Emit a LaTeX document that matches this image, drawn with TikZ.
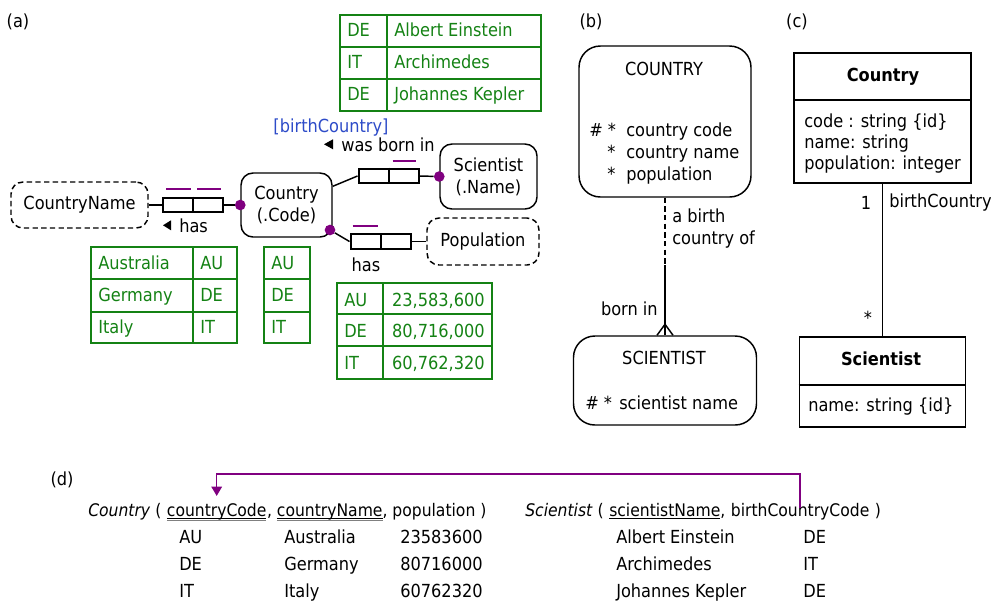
\documentclass[tikz,border=0pt]{standalone}
\usepackage{fontspec}
\setmainfont{DejaVu Sans Condensed}
\usetikzlibrary{arrows.meta,calc}

\definecolor{ormgreen}{RGB}{20,130,20}
\definecolor{ormpurple}{RGB}{128,0,128}
\definecolor{ormblue}{RGB}{45,75,200}

% keys in the relational schema
\newcommand{\pkey}[1]{\setbox0\hbox{#1}\rlap{\rule[-2.4pt]{\wd0}{0.7pt}}\rlap{\color{gray}\rule[-3.9pt]{\wd0}{0.7pt}}\box0}
\newcommand{\ukey}[1]{\setbox0\hbox{#1}\rlap{\rule[-2.4pt]{\wd0}{0.7pt}}\box0}

\begin{document}
\begin{tikzpicture}[x=0.75pt,y=0.75pt,yscale=-1,xscale=1,
  font=\fontsize{13.5}{16.5}\selectfont,
  orm/.style={draw, rounded corners=9pt, line width=1.1pt, align=center, inner sep=0},
  ormval/.style={orm, dash pattern=on 4pt off 2.5pt},
  role/.style={draw, line width=1.5pt, minimum width=45pt, minimum height=11pt, inner sep=0},
  dot/.style={circle, fill=ormpurple, minimum size=8pt, inner sep=0},
  ukbar/.style={ormpurple, line width=1.6pt},
  conn/.style={line width=1.1pt},
  grn/.style={draw=ormgreen, line width=1.2pt},
  gtxt/.style={text=ormgreen, anchor=base west, inner sep=0},
  att/.style={anchor=base west, inner sep=0},
  relhdr/.style={att, font=\fontsize{13}{16}\selectfont},
  erbox/.style={draw, rounded corners=16pt, line width=1.1pt},
  umlbox/.style={draw, line width=1.4pt},
  bold/.style={font=\fontsize{13.5}{16.5}\selectfont\bfseries},
  arrowline/.style={ormpurple, line width=1.1pt, -{Triangle[length=7pt,width=8pt]}}]
\useasboundingbox (0,0) rectangle (991,601);

%%%%%%%%%%%%%%%% (a) ORM schema
% Text Node
\node (lblA) at (18,22) {(a)};

%Shape: Table [Scientist population]
\draw [grn] (340,15) rectangle (541,111);
\draw [grn] (340,47) -- (541,47) (340,79) -- (541,79) (387,15) -- (387,111);
\node [gtxt] (sciC1) at (347,36) {DE};
\node [gtxt] (sciN1) at (394,36) {Albert Einstein};
\node [gtxt] (sciC2) at (347,68) {IT};
\node [gtxt] (sciN2) at (394,68) {Archimedes};
\node [gtxt] (sciC3) at (347,100) {DE};
\node [gtxt] (sciN3) at (394,100) {Johannes Kepler};

% Text Node
\node [text=ormblue] (rdgBirth) at (331,128) {[birthCountry]};
\node [att] (rdgBorn) at (341,151) {was born in};
\fill ($(rdgBorn.west)+(-8,-5)$) -- ($(rdgBorn.west)+(-8,5)$) -- ($(rdgBorn.west)+(-17,0)$) -- cycle;

%Shape: Entity and value types
\node [orm, minimum width=68.25pt, minimum height=48pt] (cCode) at (286.5,205) {Country\\(.Code)};
\node [orm, minimum width=72.75pt, minimum height=48.75pt] (sciName) at (488.5,176.5) {Scientist\\(.Name)};
\node [ormval, minimum width=102.75pt, minimum height=34.5pt] (cName) at (79.5,205) {CountryName};
\node [ormval, minimum width=84pt, minimum height=35.25pt] (popVal) at (483,241.5) {Population};

%Shape: Role boxes
\node [role] (roleHas) at (193,205) {};
\draw [line width=1.5pt] (roleHas.north) -- (roleHas.south);
\node [role] (roleBorn) at (388.5,176) {};
\draw [line width=1.5pt] (roleBorn.north) -- (roleBorn.south);
\node [role] (rolePop) at (380.5,241.5) {};
\draw [line width=1.5pt] (rolePop.north) -- (rolePop.south);

%Straight Lines
\draw [conn] (cName.east) -- (roleHas.west);
\draw [conn] (cCode.22) -- (roleBorn.west);
\draw [conn] (rolePop.east) -- (popVal.west);

% mandatory dots
\node [dot] (dotName) at (cCode.west) {};
\node [dot] (dotSci) at (sciName.west) {};
\node [dot] (dotPop) at (330,230) {};
\draw [conn] (roleHas.east) -- (dotName);
\draw [conn] (roleBorn.east) -- (dotSci);
\draw [conn] (dotPop) -- (rolePop.west);

% uniqueness bars
\draw [ukbar] ($(roleHas.north west)+(4,-8)$) -- ($(roleHas.north)+(-2,-8)$);
\draw [ukbar] ($(roleHas.north)+(4,-8)$) -- ($(roleHas.north east)+(-3,-8)$);
\draw [ukbar] ($(roleBorn.north)+(4,-7)$) -- ($(roleBorn.north east)+(-4,-7)$);
\draw [ukbar] ($(rolePop.north west)+(3,-7)$) -- ($(rolePop.north)+(-3,-7)$);

% Text Node
\node [att] (rdgHas) at (179,232) {has};
\fill ($(rdgHas.west)+(-8,-5)$) -- ($(rdgHas.west)+(-8,5)$) -- ($(rdgHas.west)+(-16,0)$) -- cycle;
\node (rdgPop) at (366,265) {has};

%Shape: Table [CountryName]
\draw [grn] (91,247) rectangle (237,343);
\draw [grn] (91,279) -- (237,279) (91,312) -- (237,312) (193,247) -- (193,343);
\node [gtxt] (cnN1) at (98,269) {Australia};
\node [gtxt] (cnC1) at (200,269) {AU};
\node [gtxt] (cnN2) at (98,301) {Germany};
\node [gtxt] (cnC2) at (200,301) {DE};
\node [gtxt] (cnN3) at (98,333) {Italy};
\node [gtxt] (cnC3) at (200,333) {IT};

%Shape: Table [Country]
\draw [grn] (264,247) rectangle (310,343);
\draw [grn] (264,279) -- (310,279) (264,312) -- (310,312);
\node [gtxt] (ccC1) at (271,269) {AU};
\node [gtxt] (ccC2) at (271,301) {DE};
\node [gtxt] (ccC3) at (271,333) {IT};

%Shape: Table [Population]
\draw [grn] (337,283) rectangle (492,379);
\draw [grn] (337,314) -- (492,314) (337,346) -- (492,346) (383,283) -- (383,379);
\node [gtxt] (cpC1) at (344,306) {AU};
\node [gtxt, anchor=base east] (cpP1) at (485,306) {23,583,600};
\node [gtxt] (cpC2) at (344,337) {DE};
\node [gtxt, anchor=base east] (cpP2) at (485,337) {80,716,000};
\node [gtxt] (cpC3) at (344,369) {IT};
\node [gtxt, anchor=base east] (cpP3) at (485,369) {60,762,320};

%%%%%%%%%%%%%%%% (b) Barker ER
% Text Node
\node (lblB) at (591,22) {(b)};

%Shape: Rounded Rectangle [COUNTRY]
\node [erbox, minimum width=129pt, minimum height=113.25pt] (erCountry) at (665,121.5) {};
\node (erCountryT) at (664,69) {COUNTRY};
\node [att] (erHash1) at (589,136) {\# *};
\node [att] (erAtt1) at (626,136) {country code};
\node [att] (erStar2) at (607,158) {*};
\node [att] (erAtt2) at (626,158) {country name};
\node [att] (erStar3) at (607,180) {*};
\node [att] (erAtt3) at (626,180) {population};

%Shape: Rounded Rectangle [SCIENTIST]
\node [erbox, minimum width=137.25pt, minimum height=66.75pt] (erSci) at (665,380.5) {};
\node (erSciT) at (664,358) {SCIENTIST};
\node [att] (erHash2) at (585,409) {\# *};
\node [att] (erAtt4) at (619,409) {scientist name};

%Straight Lines [relationship]
\coordinate (erMid) at (erCountry.south |- 0,265);
\draw [conn, dash pattern=on 4pt off 2.5pt] (erCountry.south) -- (erMid);
\draw [conn] (erMid) -- (erSci.north);
\draw [conn] ($(erSci.north)+(-8,0)$) -- ($(erSci.north)+(0,-11)$) -- ($(erSci.north)+(8,0)$);

% Text Node
\node [att] (erRd1) at (672,222) {a birth};
\node [att] (erRd2) at (672,244) {country of};
\node [att, anchor=base east] (erRd3) at (658,315) {born in};

%%%%%%%%%%%%%%%% (c) UML class diagram
% Text Node
\node (lblC) at (797,22) {(c)};

%Shape: Rectangle [Country]
\node [umlbox, minimum width=132.75pt, minimum height=97.5pt] (umlCountry) at (882.5,118) {};
\draw [line width=1.4pt] (umlCountry.west |- 0,100) -- (umlCountry.east |- 0,100);
\node [bold] (umlCountryT) at (883,77) {Country};
\node [att] (umlAtt1) at (804,127) {code : string \{id\}};
\node [att] (umlAtt2) at (804,148) {name: string};
\node [att] (umlAtt3) at (804,169) {population: integer};

%Shape: Rectangle [Scientist]
\node [umlbox, minimum width=124.5pt, minimum height=67.5pt] (umlSci) at (882.5,382) {};
\draw [line width=1.4pt] (umlSci.west |- 0,385) -- (umlSci.east |- 0,385);
\node [bold] (umlSciT) at (881,359) {Scientist};
\node [att] (umlAtt4) at (808,411) {name: string \{id\}};

%Straight Lines [association]
\draw [conn] (umlCountry.south) -- (umlSci.north);
\node (umlOne) at (866,203) {1};
\node [att, anchor=west] (umlRole) at (889,203) {birthCountry};
\node (umlMany) at (868,318) {*};

%%%%%%%%%%%%%%%% (d) relational schema
% Text Node
\node (lblD) at (62,480) {(d)};

\node [relhdr] (relCountry) at (88,516) {\textit{Country} ( \null};
\node [relhdr] (dCode) at (relCountry.base east) {\pkey{countryCode}};
\node [relhdr] (dRestC) at (dCode.base east) {, \pkey{countryName}, population )};
\node [att] (dAU) at (179,543) {AU};
\node [att] (dAUn) at (284,543) {Australia};
\node [att] (dAUp) at (400,543) {23583600};
\node [att] (dDE) at (179,570) {DE};
\node [att] (dDEn) at (284,570) {Germany};
\node [att] (dDEp) at (400,570) {80716000};
\node [att] (dIT) at (179,597) {IT};
\node [att] (dITn) at (284,597) {Italy};
\node [att] (dITp) at (400,597) {60762320};

\node [relhdr] (relSci) at (525,516) {\textit{Scientist} ( \null};
\node [relhdr] (dSName) at (relSci.base east) {\ukey{scientistName}, \null};
\node [relhdr] (dBirth) at (dSName.base east) {birthCountryCode};
\node [relhdr] (dRestS) at (dBirth.base east) {\null\ )};
\node [att] (dS1) at (616,543) {Albert Einstein};
\node [att] (dS1c) at (803,543) {DE};
\node [att] (dS2) at (616,570) {Archimedes};
\node [att] (dS2c) at (803,570) {IT};
\node [att] (dS3) at (616,597) {Johannes Kepler};
\node [att] (dS3c) at (803,597) {DE};

% foreign key reference
\coordinate (dTop) at (0,474);
\draw [arrowline, shorten <=-4pt, shorten >=5pt] (dBirth.north) -- (dBirth.north |- dTop) -| (dCode.north);

\end{tikzpicture}
\end{document}
